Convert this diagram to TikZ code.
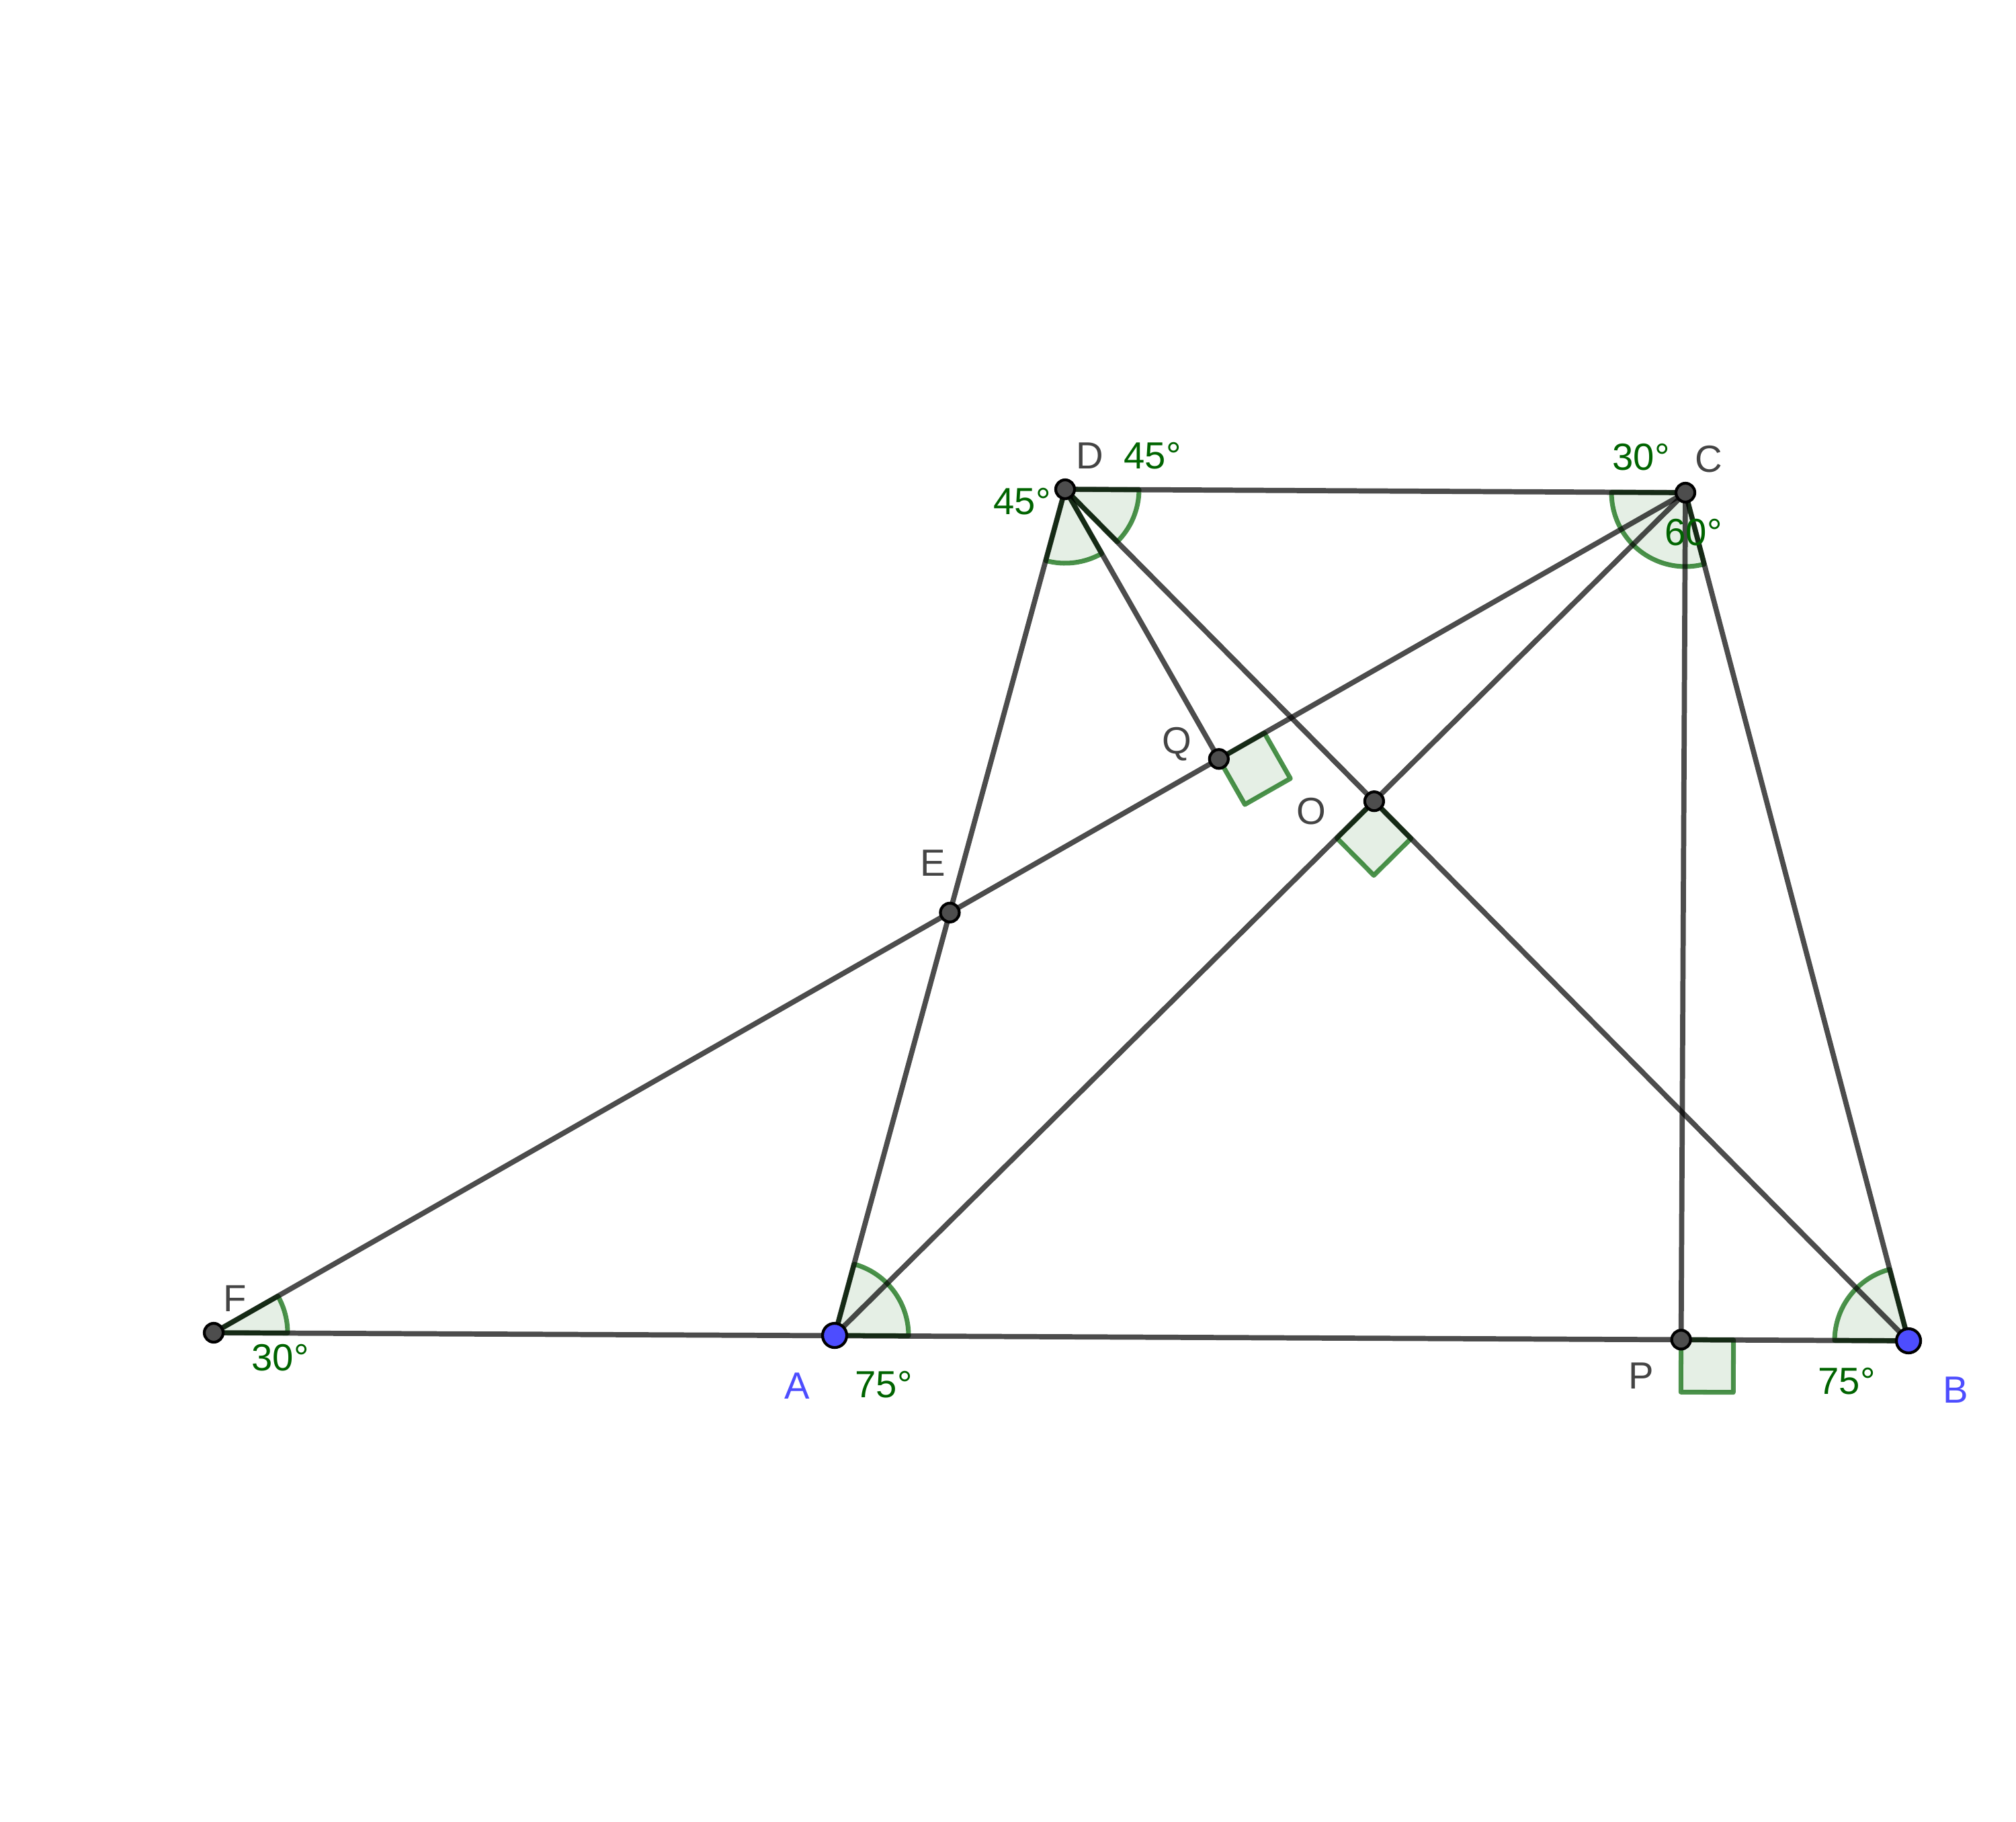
\documentclass[tikz,border=0pt]{standalone}
\usepackage{fontspec}
\setmainfont{Liberation Sans}
\usetikzlibrary{calc}
\definecolor{angdraw}{RGB}{0,100,0}
\definecolor{angtext}{RGB}{0,100,0}
\definecolor{ptfill}{RGB}{77,77,77}
\definecolor{ptblue}{RGB}{77,77,255}
\definecolor{labgray}{RGB}{68,68,68}

\begin{document}
\begin{tikzpicture}[
  seg/.style={draw=black, draw opacity=0.7, line width=2.2pt},
  angmark/.style={draw=angdraw, draw opacity=0.7, fill=angdraw, fill opacity=0.1, line width=2pt, line join=round},
  pt/.style={fill=ptfill, draw=black, line width=1.2pt},
  ptb/.style={fill=ptblue, draw=black, line width=1.2pt},
  ptlabel/.style={text=labgray, font=\fontsize{16}{19}\selectfont},
  bluelabel/.style={text=ptblue, font=\fontsize{16}{19}\selectfont},
  anglabel/.style={text=angtext, font=\fontsize{16}{19}\selectfont}]
\useasboundingbox (0,0) rectangle (30,-27.1);

% the trapezoid and the point F on line AB
\coordinate (A) at (12.42,-19.87);
\coordinate (B) at (28.40,-19.95);
\coordinate (C) at (25.08,-7.33);
\coordinate (D) at (15.85,-7.28);
\coordinate (F) at (3.18,-19.83);
\coordinate (E) at (intersection of A--D and F--C);
\coordinate (O) at (intersection of A--C and B--D);
\coordinate (Q) at ($(F)!(D)!(C)$);
\coordinate (P) at ($(A)!(C)!(B)$);

% angle sectors
\draw[angmark] (F) -- ++(-0.25:1.1) arc[start angle=-0.25, end angle=29.72, radius=1.1] -- cycle;
\draw[angmark] (A) -- ++(-0.29:1.1) arc[start angle=-0.29, end angle=74.76, radius=1.1] -- cycle;
\draw[angmark] (B) -- ++(104.74:1.1) arc[start angle=104.74, end angle=179.71, radius=1.1] -- cycle;
\draw[angmark] (D) -- ++(254.76:1.1) arc[start angle=254.76, end angle=299.72, radius=1.1] -- cycle;
\draw[angmark] (D) -- ++(314.73:1.1) arc[start angle=314.73, end angle=359.69, radius=1.1] -- cycle;
\draw[angmark] (C) -- ++(179.69:1.1) arc[start angle=179.69, end angle=284.74, radius=1.1] -- cycle;

% right angles
\draw[angmark] (P) -- ++(-0.29:0.78) -- ++(-90.29:0.78) -- ++(179.71:0.78) -- cycle;
\draw[angmark] (Q) -- ++(29.72:0.78) -- ++(-60.28:0.78) -- ++(209.72:0.78) -- cycle;
\draw[angmark] (O) -- ++(-45.27:0.78) -- ++(224.73:0.78) -- ++(134.73:0.78) -- cycle;

% segments
\draw[seg] (F) -- (B);
\draw[seg] (F) -- (C);
\draw[seg] (A) -- (D) -- (C) -- (B);
\draw[seg] (A) -- (C);
\draw[seg] (B) -- (D);
\draw[seg] (D) -- (Q);
\draw[seg] (C) -- (P);

% points
\foreach \p in {C,D,E,F,O,P,Q}
  \draw[pt] (\p) circle (0.14);
\draw[ptb] (A) circle (0.18);
\draw[ptb] (B) circle (0.18);

% labels
\node[ptlabel] (labD) at ($(D)+(0.37,0.50)$) {D};
\node[ptlabel] (labC) at ($(C)+(0.35,0.50)$) {C};
\node[bluelabel] (labA) at ($(A)+(-0.56,-0.75)$) {A};
\node[bluelabel] (labB) at ($(B)+(0.70,-0.73)$) {B};
\node[ptlabel] (labF) at ($(F)+(0.32,0.51)$) {F};
\node[ptlabel] (labP) at ($(P)+(-0.59,-0.54)$) {P};
\node[ptlabel] (labQ) at ($(Q)+(-0.62,0.22)$) {Q};
\node[ptlabel] (labO) at ($(O)+(-0.94,-0.15)$) {O};
\node[ptlabel] (labE) at ($(E)+(-0.25,0.74)$) {E};

\node[anglabel] (angDr) at ($(D)+(1.30,0.50)$) {45°};
\node[anglabel] (angDl) at ($(D)+(-0.64,-0.18)$) {45°};
\node[anglabel] (angCt) at ($(C)+(-0.66,0.53)$) {30°};
\node[anglabel] (angCb) at ($(C)+(0.12,-0.59)$) {60°};
\node[anglabel] (angA) at ($(A)+(0.73,-0.73)$) {75°};
\node[anglabel] (angB) at ($(B)+(-0.92,-0.60)$) {75°};
\node[anglabel] (angF) at ($(F)+(0.99,-0.37)$) {30°};
\end{tikzpicture}
\end{document}
